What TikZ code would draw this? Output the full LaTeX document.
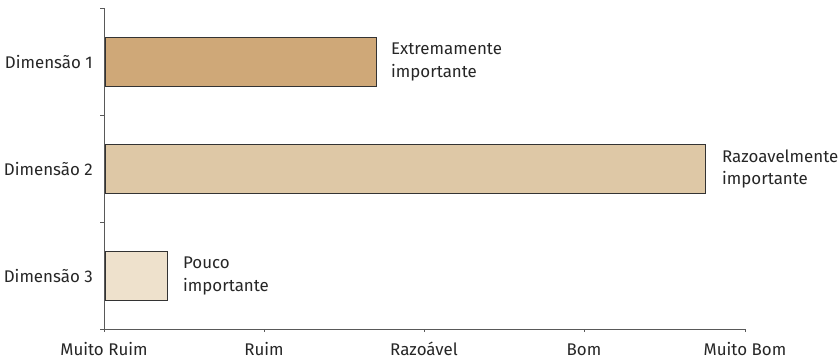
\documentclass[tikz,border=0pt]{standalone}
\usepackage{fontspec}
\setmainfont{Fira Sans}
\begin{document}
\begin{tikzpicture}[x=1pt,y=-1pt,
  txt/.style={text=black!85, font=\fontsize{16.9}{22.5}\selectfont, inner sep=0pt},
  barbox/.style={draw=black!80, line width=0.9pt},
  axisline/.style={draw=black!65, line width=0.9pt}]
\useasboundingbox (0,0) rectangle (838,360);
\definecolor{barA}{HTML}{CFA878}
\definecolor{barB}{HTML}{DEC8A6}
\definecolor{barC}{HTML}{EEE1CC}
% bars
\node[barbox, fill=barA, minimum width=271, minimum height=49, anchor=north west, inner sep=0pt] (b1) at (105,37) {};
\node[barbox, fill=barB, minimum width=600, minimum height=49, anchor=north west, inner sep=0pt] (b2) at (105,144) {};
\node[barbox, fill=barC, minimum width=62, minimum height=49, anchor=north west, inner sep=0pt] (b3) at (105,251) {};
% axes
\coordinate (o) at (104,329);
\coordinate (ytop) at (104,8);
\coordinate (xend) at (745,329);
\draw[axisline] (ytop) -- (o) -- (xend);
\foreach \y in {8,115,222,329} \draw[axisline] (100,\y) -- (104,\y);
\foreach \x in {104,264,424,584,745} \draw[axisline] (\x,329) -- (\x,332);
% y labels
\node[txt, anchor=east] (d1) at (93,62) {Dimensão 1};
\node[txt, anchor=east] (d2) at (93,169) {Dimensão 2};
\node[txt, anchor=east] (d3) at (93,276) {Dimensão 3};
% bar labels
\node[txt, anchor=west, align=left] (l1) at (b1.east) [xshift=14] {Extremamente\\importante};
\node[txt, anchor=west, align=left] (l2) at (b2.east) [xshift=16] {Razoavelmente\\importante};
\node[txt, anchor=west, align=left] (l3) at (b3.east) [xshift=15] {Pouco\\importante};
% x labels
\node[txt, anchor=base] (x1) at (104,355) {Muito Ruim};
\node[txt, anchor=base] (x2) at (264,355) {Ruim};
\node[txt, anchor=base] (x3) at (424,355) {Razoável};
\node[txt, anchor=base] (x4) at (584,355) {Bom};
\node[txt, anchor=base] (x5) at (745,355) {Muito Bom};
\end{tikzpicture}
\end{document}
